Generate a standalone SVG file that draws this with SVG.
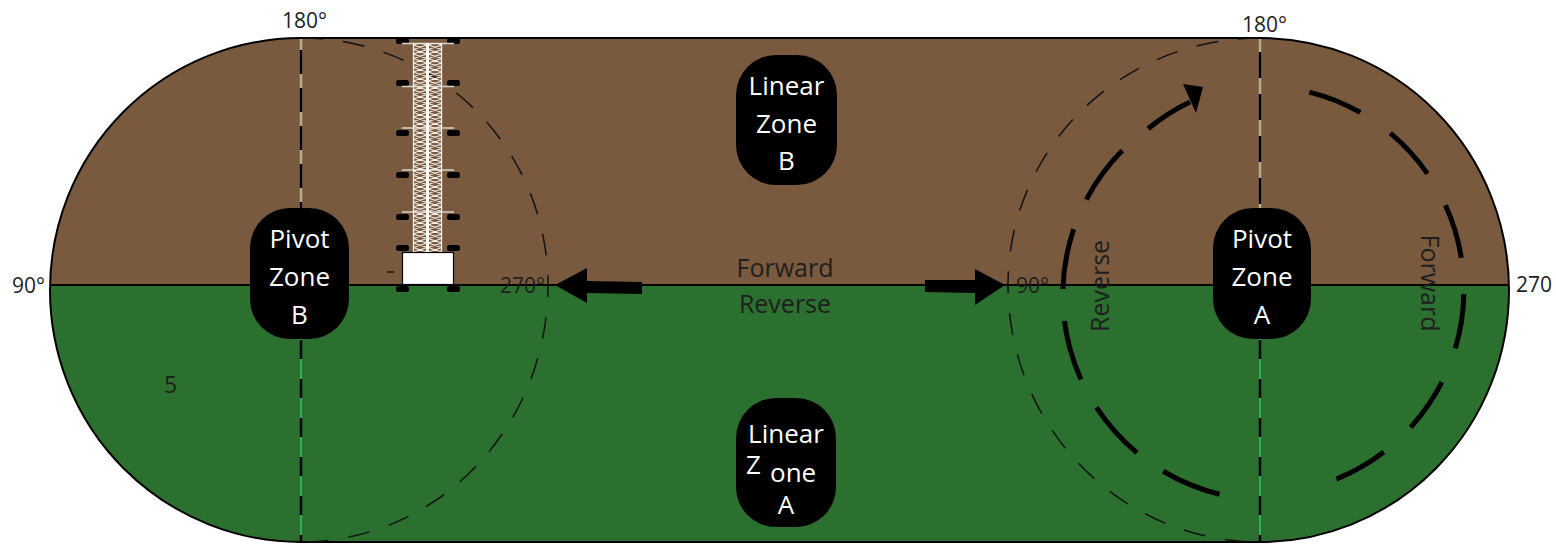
<svg xmlns="http://www.w3.org/2000/svg" width="1556" height="545" viewBox="0 0 1556 545">
  <style>
    .lbl { font-family: "Open Sans", "Liberation Sans", sans-serif; fill: #1e1e1e; }
    .deg { font-size: 21px; }
    .pill { fill: #000; }
    .pilltxt { font-family: "Open Sans", "Liberation Sans", sans-serif; font-size: 26px; fill: #fff; text-anchor: middle; }
    .thin { fill: none; stroke: #111; stroke-width: 1.5; stroke-dasharray: 22 20; }
    .thick { fill: none; stroke: #000; stroke-width: 5; }
    .pad { fill: #000; }
    .bar { stroke: #d8d2c8; stroke-width: 1.5; }
  </style>
  <defs>
    <clipPath id="field">
      <path d="M301,38 L1260,38 A249,252 0 0 1 1260,542 L301,542 A251,252 0 0 1 301,38 Z"/>
    </clipPath>
    <pattern id="truss" x="413" y="0" width="29" height="9" patternUnits="userSpaceOnUse">
      <path d="M0,0 L14,4.5 L0,9 M14,0 L0,4.5 L14,9 M15,0 L29,4.5 L15,9 M29,0 L15,4.5 L29,9" fill="none" stroke="#f2eee8" stroke-width="1.1"/>
    </pattern>
  </defs>

  <!-- field: brown upper half, green lower half -->
  <g id="field-area">
    <g clip-path="url(#field)">
      <rect x="0" y="0" width="1556" height="285" fill="#7a5a3f"/>
      <rect x="0" y="285" width="1556" height="260" fill="#2b702e"/>
    </g>
    <path d="M301,38 L1260,38 A249,252 0 0 1 1260,542 L301,542 A251,252 0 0 1 301,38 Z" fill="none" stroke="#000" stroke-width="2"/>
    <line x1="50" y1="285" x2="1509" y2="285" stroke="#000" stroke-width="2"/>
  </g>

  <!-- pivot axes -->
  <g id="axes">
    <line x1="301" y1="39" x2="301" y2="285" stroke="#b4ab90" stroke-width="2.5"/>
    <line x1="301" y1="285" x2="301" y2="542" stroke="#2fae62" stroke-width="2"/>
    <line x1="301" y1="50" x2="301" y2="285" stroke="#000" stroke-width="2.5" stroke-dasharray="24 14"/>
    <line x1="301" y1="340" x2="301" y2="542" stroke="#000" stroke-width="2.5" stroke-dasharray="19 20"/>
    <line x1="1260" y1="39" x2="1260" y2="285" stroke="#b4ab90" stroke-width="2.5"/>
    <line x1="1260" y1="285" x2="1260" y2="542" stroke="#2fae62" stroke-width="2"/>
    <line x1="1260" y1="52" x2="1260" y2="285" stroke="#000" stroke-width="2.5" stroke-dasharray="26 16"/>
    <line x1="1260" y1="340" x2="1260" y2="542" stroke="#000" stroke-width="2.5" stroke-dasharray="19 20"/>
  </g>

  <!-- swing boundaries of the two pivot zones -->
  <g id="swing-boundaries">
    <path class="thin" d="M301,38 A247,247 0 0 1 548,285 A247,257 0 0 1 301,542"/>
    <path class="thin" d="M1260,38 A252,247 0 0 0 1008,285 A252,257 0 0 0 1260,542"/>
  </g>

  <!-- lateral move machine -->
  <g id="machine">
    <g class="pad">
      <rect x="396" y="38" width="13" height="6" rx="2.5"/>
      <rect x="447" y="38" width="13" height="6" rx="2.5"/>
      <rect x="396" y="80" width="13" height="6" rx="2.5"/>
      <rect x="447" y="80" width="13" height="6" rx="2.5"/>
      <rect x="396" y="130" width="13" height="6" rx="2.5"/>
      <rect x="447" y="130" width="13" height="6" rx="2.5"/>
      <rect x="396" y="172" width="13" height="6" rx="2.5"/>
      <rect x="447" y="172" width="13" height="6" rx="2.5"/>
      <rect x="396" y="214" width="13" height="6" rx="2.5"/>
      <rect x="447" y="214" width="13" height="6" rx="2.5"/>
      <rect x="396" y="245" width="13" height="6" rx="2.5"/>
      <rect x="447" y="245" width="13" height="6" rx="2.5"/>
      <rect x="396" y="286" width="13" height="6" rx="2.5"/>
      <rect x="447" y="286" width="13" height="6" rx="2.5"/>
    </g>
    <g class="bar">
      <line x1="402" y1="43.5" x2="454" y2="43.5"/>
      <line x1="402" y1="86.5" x2="454" y2="86.5"/>
      <line x1="402" y1="128" x2="454" y2="128"/>
      <line x1="402" y1="170" x2="454" y2="170"/>
      <line x1="402" y1="212" x2="454" y2="212"/>
    </g>
    <rect x="413" y="43" width="29" height="209" fill="url(#truss)"/>
    <line x1="413.5" y1="43" x2="413.5" y2="252" stroke="#f2eee8" stroke-width="1.3"/>
    <line x1="441.5" y1="43" x2="441.5" y2="252" stroke="#f2eee8" stroke-width="1.3"/>
    <line x1="427.5" y1="43" x2="427.5" y2="252" stroke="#ffffff" stroke-width="3"/>
    <rect x="402.5" y="252.5" width="51" height="32" fill="#fff" stroke="#000" stroke-width="1.2"/>
    <line x1="387" y1="272" x2="394" y2="272" stroke="#000" stroke-width="1.2"/>
  </g>

  <!-- rotation paths around pivot zone A -->
  <g id="rotation-paths">
    <path class="thick" d="M1219.5,494.2 A205,205 0 0 1 1127,146" stroke-dasharray="61 32"/>
    <path class="thick" d="M1148.1,128.7 A205,205 0 0 1 1190,102"/>
    <polygon points="1183,84 1203,87 1196,113" fill="#000"/>
    <path class="thick" d="M1309.4,92.1 A204,204 0 0 1 1336.4,479.1" stroke-dasharray="55 36.5"/>
  </g>

  <!-- travel direction arrows -->
  <g id="connectors">
    <polygon points="555,285 587,268 587,281 642,282 642,294 587,293 587,303" fill="#000"/>
    <polygon points="1005,285 975,269 975,280 925,280 925,292 975,293 975,305" fill="#000"/>
  </g>

  <g id="pivot-zone-b">
    <rect class="pill" x="250" y="208" width="99" height="131" rx="40"/>
    <text class="pilltxt" x="299.5" y="248">Pivot</text>
    <text class="pilltxt" x="299.5" y="286">Zone</text>
    <text class="pilltxt" x="299.5" y="324">B</text>
  </g>
  <g id="pivot-zone-a">
    <rect class="pill" x="1213" y="208" width="98" height="131" rx="40"/>
    <text class="pilltxt" x="1262" y="248">Pivot</text>
    <text class="pilltxt" x="1262" y="286">Zone</text>
    <text class="pilltxt" x="1262" y="324">A</text>
  </g>
  <g id="linear-zone-b">
    <rect class="pill" x="736" y="55" width="101" height="130" rx="40"/>
    <text class="pilltxt" x="786.5" y="95">Linear</text>
    <text class="pilltxt" x="786.5" y="133">Zone</text>
    <text class="pilltxt" x="786.5" y="170">B</text>
  </g>
  <g id="linear-zone-a">
    <rect class="pill" x="736" y="398" width="100" height="129" rx="40"/>
    <text class="pilltxt" x="786" y="443">Linear</text>
    <text class="pilltxt" x="746" y="474" style="text-anchor:start">Z</text>
    <text class="pilltxt" x="770" y="482" style="text-anchor:start">one</text>
    <text class="pilltxt" x="786" y="514">A</text>
  </g>

  <!-- labels -->
  <g id="labels">
    <text class="lbl deg" x="282" y="28">180°</text>
    <text class="lbl deg" x="1242" y="32">180°</text>
    <text class="lbl deg" x="12" y="293">90°</text>
    <text class="lbl deg" x="500" y="293">270°</text>
    <text class="lbl deg" x="1016" y="293">90°</text>
    <text class="lbl deg" x="1516" y="292">270</text>
    <text class="lbl" x="164" y="393" font-size="23">5</text>
    <text class="lbl" x="785" y="277" font-size="25" text-anchor="middle">Forward</text>
    <text class="lbl" x="785" y="313" font-size="25" text-anchor="middle">Reverse</text>
    <text class="lbl" font-size="25" text-anchor="middle" transform="translate(1109,286) rotate(-90)">Reverse</text>
    <text class="lbl" font-size="25" text-anchor="middle" transform="translate(1421,283) rotate(90)">Forward</text>
  </g>
</svg>
